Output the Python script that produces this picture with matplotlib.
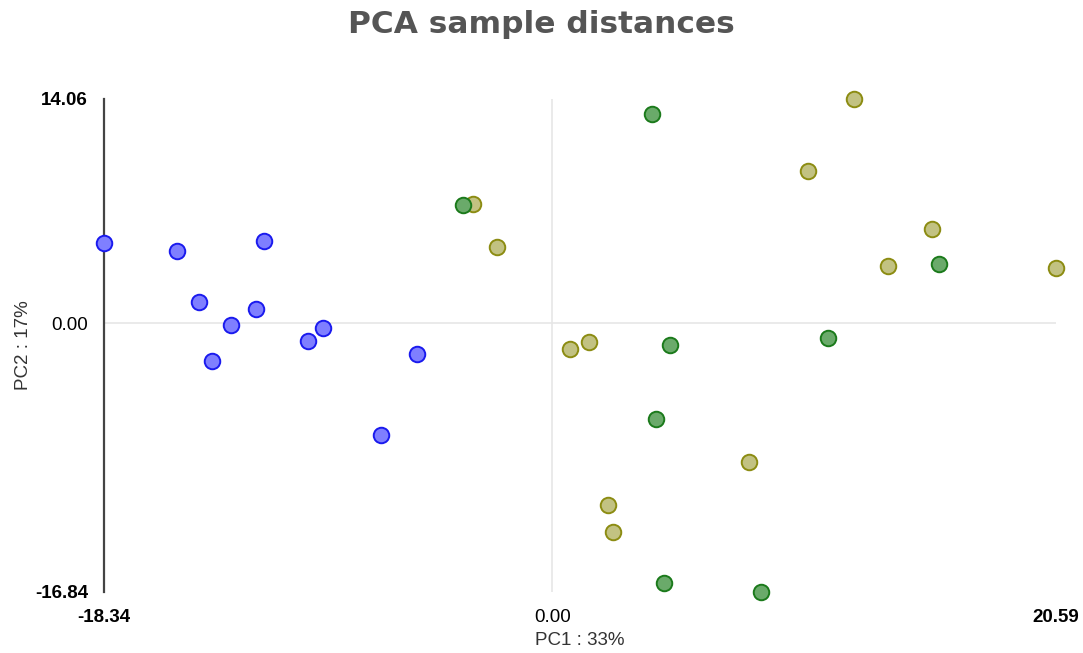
import matplotlib
matplotlib.use("Agg")
import matplotlib.pyplot as plt

# PCA coordinates
blue_x = [-18.34, -15.34, -14.44, -11.78, -13.13, -12.11, -13.91, -9.98, -9.37, -5.56, -7.03]
blue_y = [5.03, 4.53, 1.32, 5.16, -0.13, 0.88, -2.39, -1.13, -0.31, -1.95, -6.99]

green_x = [-3.64, 4.05, 4.79, 11.25, 15.79, 4.25, 4.54, 8.51]
green_y = [7.43, 13.09, -1.38, -0.94, 3.71, -5.98, -16.30, -16.84]

olive_x = [-3.27, -2.25, 12.35, 10.43, 15.50, 13.70, 20.59, 0.70, 1.51, 8.02, 2.29, 2.49]
olive_y = [7.50, 4.76, 14.06, 9.53, 5.89, 3.57, 3.45, -1.63, -1.19, -8.71, -11.41, -13.10]

x_min, x_max = -18.34, 20.59
y_min, y_max = -16.84, 14.06

fig = plt.figure(figsize=(10.83, 6.53), dpi=100)
ax = fig.add_axes([104 / 1083, 1 - 592 / 653, (1056 - 104) / 1083, (592 - 99) / 653])

ax.axhline(0, color="#e6e6e6", lw=1.2, zorder=1)
ax.axvline(0, color="#e6e6e6", lw=1.2, zorder=1)

groups = [
    (blue_x, blue_y, "#7f7fff", "#1a1aee"),
    (olive_x, olive_y, "#c2c282", "#8c8c12"),
    (green_x, green_y, "#6aaa6a", "#1b7a1b"),
]
for xs, ys, fc, ec in groups:
    ax.scatter(xs, ys, s=125, facecolor=fc, edgecolor=ec, linewidth=1.4,
               zorder=3, clip_on=False)

ax.set_xlim(x_min, x_max)
ax.set_ylim(y_min, y_max)

for s in ["top", "right", "bottom"]:
    ax.spines[s].set_visible(False)
ax.spines["left"].set_color("#444444")
ax.spines["left"].set_linewidth(1.6)

ax.set_xticks([x_min, 0, x_max])
ax.set_xticklabels([f"{x_min:.2f}", "0.00", f"{x_max:.2f}"])
ax.set_yticks([y_min, 0, y_max])
ax.set_yticklabels([f"{y_min:.2f}", "0.00", f"{y_max:.2f}"])
ax.tick_params(length=0, labelsize=13.5)
ax.tick_params(axis="x", pad=12)
ax.tick_params(axis="y", pad=11.5)
for lbl in [ax.get_xticklabels()[0], ax.get_xticklabels()[2],
            ax.get_yticklabels()[0], ax.get_yticklabels()[2]]:
    lbl.set_fontweight("bold")
for lbl in ax.get_xticklabels() + ax.get_yticklabels():
    lbl.set_fontfamily("Liberation Sans")

ax.set_xlabel("PC1 : 33%", fontsize=13.5, family="Liberation Sans", color="#333333")
ax.set_ylabel("PC2 : 17%", fontsize=13.5, family="Liberation Sans", color="#333333")
ax.xaxis.set_label_coords(0.5, -0.081)
ax.yaxis.set_label_coords(-0.076, 0.5)

fig.suptitle("PCA sample distances", fontsize=22.5, fontweight="bold", color="#555555",
             y=0.985, family="DejaVu Sans")

fig.savefig("out.png", dpi=100, facecolor="white")
